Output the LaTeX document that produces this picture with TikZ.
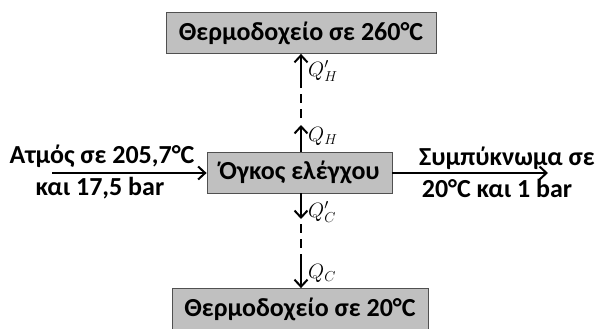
\documentclass[tikz,border=0pt]{standalone}
\usepackage{fontspec}
\setmainfont{Carlito}
\usetikzlibrary{arrows.meta}
\definecolor{boxfill}{HTML}{C0C0C0}
\definecolor{boxline}{HTML}{505050}
\tikzset{
  box/.style={draw=boxline, line width=0.8pt, fill=boxfill, inner sep=0pt, font=\fontsize{26}{30}\selectfont\bfseries},
  flow/.style={line width=2.4pt, -{Straight Barb[length=7pt,width=13pt,line width=2pt]}},
  dash line/.style={line width=2.4pt, dash pattern=on 9pt off 6pt},
  lbl/.style={font=\fontsize{26}{30}\selectfont\bfseries, inner sep=0pt},
  qlbl/.style={font=\fontsize{20}{24}\selectfont, inner sep=0pt, anchor=west}
}
\begin{document}
\begin{tikzpicture}[x=1pt,y=-1pt]
\useasboundingbox (0,0) rectangle (597,329);
\node[box, minimum width=270pt, minimum height=41pt] (top) at (301,33) {Θερμοδοχείο σε 260°C};
\node[box, minimum width=185pt, minimum height=41pt] (mid) at (299.5,172.5) {Όγκος ελέγχου};
\node[box, minimum width=256pt, minimum height=41pt] (bot) at (300,309) {Θερμοδοχείο σε 20°C};

\coordinate (qh) at (301,125);
\coordinate (d1) at (301,118);
\coordinate (d2) at (301,83);
\coordinate (qc) at (301,219);
\coordinate (d3) at (301,224);
\coordinate (d4) at (301,262);

\draw[flow] (mid.north -| qh) -- (qh);
\draw[dash line] (d1) -- (d2);
\draw[flow] (d2) -- (top.south -| d2);
\draw[flow] (mid.south -| qc) -- (qc);
\draw[dash line] (d3) -- (d4);
\draw[flow] (d4) -- (bot.north -| d4);

\node[qlbl] (lqh2) at (308,71) {$Q'_H$};
\node[qlbl] (lqh) at (308,136) {$Q_H$};
\node[qlbl] (lqc2) at (308,212) {$Q'_C$};
\node[qlbl] (lqc) at (308,273) {$Q_C$};

\coordinate (lin) at (52,173);
\coordinate (rout) at (548,173);
\draw[flow] (lin) -- (mid.west |- lin);
\draw[flow] (mid.east |- rout) -- (rout);

\node[lbl] (in1) at (102,156) {Ατμός σε 205,7°C};
\node[lbl] (in2) at (100,188) {και 17,5 bar};
\node[lbl] (out1) at (507,158) {Συμπύκνωμα σε};
\node[lbl] (out2) at (497,188) {20°C και 1 bar};
\end{tikzpicture}
\end{document}
